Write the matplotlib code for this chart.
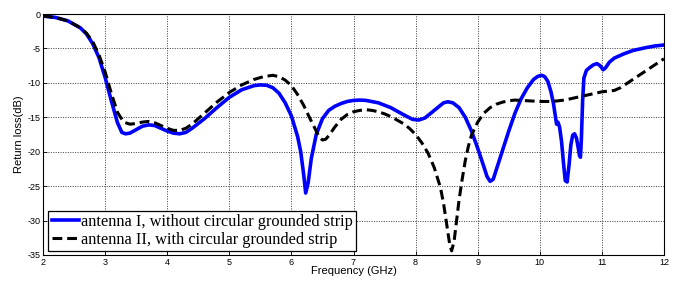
import matplotlib
matplotlib.use("Agg")
import matplotlib.pyplot as plt

# Antenna I (without circular grounded strip)
f1 = [2.0, 2.2, 2.4, 2.6, 2.7, 2.8, 2.9, 3.0, 3.1, 3.2, 3.27, 3.33, 3.4, 3.5, 3.6, 3.7, 3.8, 3.9, 4.0, 4.1, 4.2, 4.3,
      4.4, 4.6, 4.8, 5.0, 5.2, 5.4, 5.5, 5.6, 5.7, 5.8, 5.9, 6.0, 6.1, 6.15, 6.2, 6.23, 6.27, 6.32, 6.4, 6.5, 6.6, 6.7,
      6.8, 6.9, 7.0, 7.1, 7.2, 7.4, 7.6, 7.8, 7.95, 8.05, 8.15, 8.3, 8.45, 8.52, 8.6, 8.7, 8.8, 8.9, 9.0, 9.1,
      9.15, 9.2, 9.25, 9.3, 9.4, 9.5, 9.6, 9.7, 9.8, 9.9, 9.97, 10.03, 10.08, 10.13, 10.18, 10.22, 10.25, 10.27,
      10.29, 10.3, 10.32, 10.35, 10.38, 10.41, 10.44, 10.47, 10.5, 10.53, 10.56, 10.59, 10.62, 10.64, 10.655,
      10.67, 10.69, 10.71, 10.75, 10.8, 10.86, 10.92, 10.97, 11.02, 11.06, 11.12, 11.2, 11.35, 11.5, 11.7, 11.85, 12.0]
s11_1 = [-0.3, -0.5, -1.0, -2.0, -2.9, -4.3, -6.3, -9.2, -12.6, -15.8, -17.2, -17.4, -17.3, -16.8, -16.3, -16.1, -16.2,
         -16.6, -17.0, -17.3, -17.4, -17.2, -16.6, -15.2, -13.6, -12.1, -11.0, -10.4, -10.3, -10.35, -10.7, -11.5,
         -12.9, -14.8, -17.8, -20.0, -23.5, -26.0, -24.5, -21.0, -17.5, -15.2, -14.0, -13.4, -13.0, -12.7, -12.55,
         -12.5, -12.55, -12.9, -13.6, -14.6, -15.3, -15.4, -15.1, -14.0, -12.9, -12.75, -12.9, -13.6, -15.0, -17.0,
         -19.5, -22.2, -23.6, -24.3, -24.0, -22.6, -19.8, -17.0, -14.4, -12.3, -10.7, -9.5, -9.05, -8.9, -9.1, -9.8,
         -11.3, -13.0, -14.8, -16.0, -15.7, -15.9, -16.5, -18.5, -21.5, -24.2, -24.4, -22.0, -19.0, -17.6, -17.4,
         -18.0, -19.5, -20.6, -20.8, -18.0, -12.5, -9.3, -8.2, -7.8, -7.4, -7.2, -7.5, -8.1, -7.8, -7.0, -6.4, -5.8,
         -5.3, -4.9, -4.65, -4.5]

# Antenna II (with circular grounded strip)
f2 = [2.0, 2.2, 2.4, 2.6, 2.7, 2.8, 2.9, 3.0, 3.1, 3.2, 3.3, 3.4, 3.5, 3.6, 3.7, 3.8, 3.9, 4.0, 4.1, 4.2, 4.3, 4.4,
      4.6, 4.8, 5.0, 5.2, 5.4, 5.55, 5.7, 5.8, 5.9, 6.0, 6.1, 6.2, 6.3, 6.4, 6.45, 6.5, 6.55, 6.6, 6.7, 6.8, 6.9,
      7.0, 7.1, 7.2, 7.3, 7.4, 7.5, 7.6, 7.7, 7.8, 7.9, 8.0, 8.1, 8.2, 8.3, 8.4, 8.45, 8.5, 8.55, 8.58, 8.62,
      8.66, 8.7, 8.75, 8.8, 8.85, 8.9, 9.0, 9.1, 9.2, 9.3, 9.4, 9.5, 9.6, 9.8, 10.0, 10.2, 10.4, 10.6, 10.8,
      11.0, 11.1, 11.2, 11.3, 11.4, 11.5, 11.6, 11.7, 11.8, 11.9, 12.0]
s11_2 = [-0.3, -0.5, -1.0, -2.0, -2.8, -4.0, -5.9, -8.4, -11.5, -14.3, -15.7, -16.0, -15.9, -15.7, -15.6, -15.8, -16.2,
         -16.6, -16.9, -16.9, -16.6, -16.0, -14.4, -12.8, -11.4, -10.3, -9.5, -9.1, -8.9, -9.1, -9.6, -10.4, -11.7,
         -13.3, -15.2, -17.0, -17.9, -18.3, -18.2, -17.7, -16.4, -15.3, -14.6, -14.2, -14.0, -13.9, -14.0, -14.2,
         -14.5, -14.9, -15.4, -15.9, -16.6, -17.5, -18.7, -20.2, -22.3, -25.2, -27.5, -30.5, -33.5, -34.4, -33.0,
         -30.0, -27.0, -24.0, -21.3, -19.2, -17.6, -15.7, -14.4, -13.6, -13.1, -12.8, -12.6, -12.5, -12.6, -12.7,
         -12.7, -12.5, -12.1, -11.7, -11.3, -11.2, -11.1, -10.7, -10.1, -9.5, -8.9, -8.3, -7.7, -7.1, -6.5]

xticks = [2, 3, 4, 5, 6, 7, 8, 9, 10, 11, 12]
yticks = [0, -5, -10, -15, -20, -25, -30, -35]
labels = ["antenna I, without circular grounded strip", "antenna II, with circular grounded strip"]

fig = plt.figure(figsize=(6.77, 2.82), dpi=100)
ax = fig.add_axes([43/677, 1 - 255/282, (664-43)/677, (255-14)/282])
ax.plot(f1, s11_1, color="#0000ff", lw=2.6, label=labels[0])
ax.plot(f2, s11_2, color="black", lw=2.2, ls=(0, (3.2, 1.6)), label=labels[1])
ax.set_xlim(2, 12)
ax.set_ylim(-35, 0)
ax.set_xticks(xticks)
ax.set_yticks(yticks)
ax.set_xticklabels([str(v) for v in xticks], fontsize=6.5, family="Liberation Sans")
ax.set_yticklabels([str(v) for v in yticks], fontsize=6.5, family="Liberation Sans")
ax.tick_params(direction="in", length=3, width=0.6, pad=2)
ax.grid(True, color="black", ls=(0, (1.5, 2)), lw=0.5)
for s in ax.spines.values():
    s.set_linewidth(0.8)
ax.set_xlabel("Frequency (GHz)", fontsize=8, family="Liberation Sans")
ax.xaxis.set_label_coords(0.5, -0.045)
ax.set_ylabel("Return loss(dB)", fontsize=8, family="Liberation Sans")
ax.yaxis.set_label_coords(-0.03, 0.5)
leg = ax.legend(loc="lower left", bbox_to_anchor=(0.006, 0.01), prop={"family": "Liberation Serif", "size": 11.8},
                handlelength=1.65, handletextpad=0.12, borderpad=0.2, labelspacing=0.1, borderaxespad=0.1,
                fancybox=False, framealpha=1, edgecolor="black")
leg.get_frame().set_linewidth(0.9)
fig.savefig("out.png", dpi=100)
